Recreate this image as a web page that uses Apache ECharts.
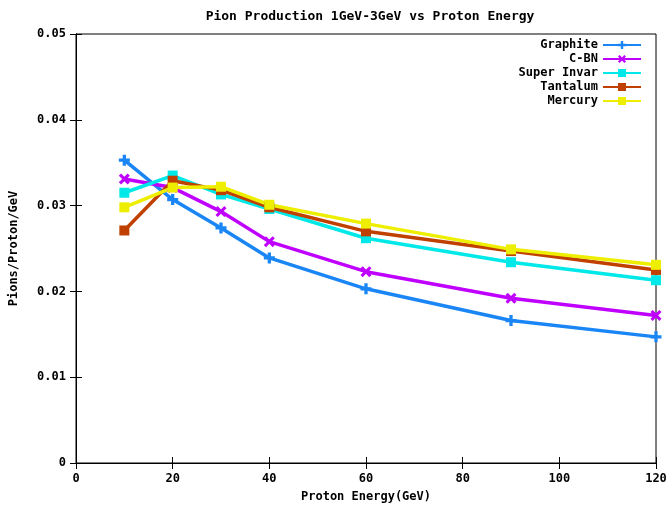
<!DOCTYPE html>
<html><head><meta charset="utf-8">
<script src="https://cdn.jsdelivr.net/npm/echarts@6/dist/echarts.min.js"></script>
<style>html,body{margin:0;padding:0;background:#fff}#c{width:670px;height:510px}</style>
</head><body><div id="c"></div>
<script>
const energies = [10, 20, 30, 40, 60, 90, 120];
const graphite   = [0.0353, 0.0307, 0.0274, 0.0239, 0.0203, 0.0166, 0.0147];
const cbn        = [0.0331, 0.0321, 0.0293, 0.0258, 0.0223, 0.0192, 0.0172];
const superInvar = [0.0315, 0.0335, 0.0313, 0.0296, 0.0262, 0.0234, 0.0213];
const tantalum   = [0.0271, 0.0329, 0.0318, 0.0298, 0.0270, 0.0247, 0.0225];
const mercury    = [0.0298, 0.0321, 0.0322, 0.0301, 0.0279, 0.0249, 0.0231];
const seriesNames = ['Graphite', 'C-BN', 'Super Invar', 'Tantalum', 'Mercury'];
const seriesData = [graphite, cbn, superInvar, tantalum, mercury];
const colors = ['#1a86f5', '#c000ff', '#00e8e8', '#c04000', '#eeee00'];
const plusPath = 'path://M3.5,0H6.5V3.5H10V6.5H6.5V10H3.5V6.5H0V3.5H3.5Z';
const crossPath = 'path://M2,0L5,3L8,0L10,2L7,5L10,8L8,10L5,7L2,10L0,8L3,5L0,2Z';
const symbols = [plusPath, crossPath, 'rect', 'rect', 'rect'];
const symbolSizes = [11, 11, 10, 10, 10];

const font = {fontFamily: 'DejaVu Sans Mono', fontWeight: 'bold', fontSize: 12, color: '#000'};
const chart = echarts.init(document.getElementById('c'), null, {renderer: 'canvas'});
chart.setOption({
  animation: false,
  backgroundColor: '#fff',
  title: {text: 'Pion Production 1GeV-3GeV vs Proton Energy', left: 365, textAlign: 'center', top: 5,
    textStyle: Object.assign({}, font, {fontSize: 13})},
  legend: {
    orient: 'vertical', right: 23, top: 34, align: 'right',
    itemWidth: 38, itemHeight: 10, itemGap: 2,
    textStyle: Object.assign({}, font, {lineHeight: 12}),
    data: seriesNames
  },
  grid: {left: 75, right: 14, top: 34, bottom: 47, show: true, borderColor: '#000', borderWidth: 1},
  xAxis: [{
    type: 'value', min: 0, max: 120, interval: 20, position: 'bottom',
    name: 'Proton Energy(GeV)', nameLocation: 'middle', nameGap: 28, nameTextStyle: font,
    axisLine: {lineStyle: {color: '#000'}},
    axisTick: {inside: true, length: 6, lineStyle: {color: '#000'}},
    axisLabel: Object.assign({margin: 10}, font),
    splitLine: {show: false}
  }, {
    type: 'value', min: 0, max: 120, interval: 20, position: 'top',
    axisLine: {lineStyle: {color: '#000'}},
    axisTick: {inside: true, length: 6, lineStyle: {color: '#000'}},
    axisLabel: {show: false}, splitLine: {show: false}
  }],
  yAxis: [{
    type: 'value', min: 0, max: 0.05, interval: 0.01, position: 'left',
    name: 'Pions/Proton/GeV', nameLocation: 'middle', nameGap: 56, nameTextStyle: font,
    axisLine: {show: true, lineStyle: {color: '#000'}},
    axisTick: {show: true, inside: true, length: 6, lineStyle: {color: '#000'}},
    axisLabel: Object.assign({margin: 10, formatter: v => v === 0 ? '0' : v.toFixed(2)}, font),
    splitLine: {show: false}
  }, {
    type: 'value', min: 0, max: 0.05, interval: 0.01, position: 'right',
    axisLine: {show: true, lineStyle: {color: '#000'}},
    axisTick: {show: true, inside: true, length: 6, lineStyle: {color: '#000'}},
    axisLabel: {show: false}, splitLine: {show: false}
  }],
  series: seriesNames.map((n, i) => ({
    name: n, type: 'line', xAxisIndex: 0, yAxisIndex: 0,
    data: energies.map((e, j) => [e, seriesData[i][j]]),
    symbol: symbols[i], symbolSize: symbolSizes[i], showAllSymbol: true,
    clip: false,
    color: colors[i],
    lineStyle: {width: 3.5, color: colors[i]},
    itemStyle: {color: colors[i]}
  }))
});
</script></body></html>
